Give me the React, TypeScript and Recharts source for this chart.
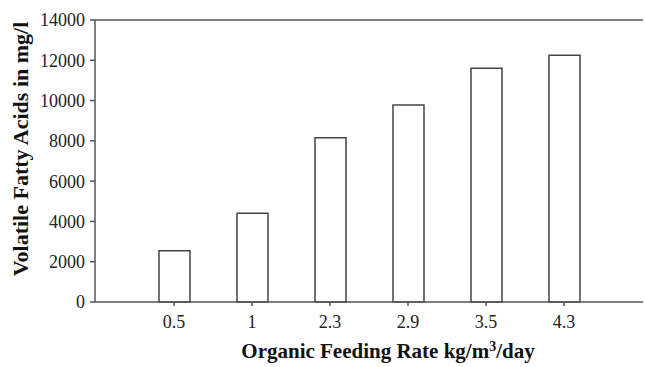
import React from 'react';
import { BarChart, Bar, XAxis, YAxis, ReferenceLine } from 'recharts';

const categories = ['0.5', '1', '2.3', '2.9', '3.5', '4.3'];
const vfaValues = [2550, 4400, 8150, 9780, 11600, 12250];
const yTicks = [0, 2000, 4000, 6000, 8000, 10000, 12000, 14000];

const data = categories.map((c, i) => ({ rate: c, vfa: vfaValues[i] }));

const FONT = '"Liberation Serif", "Times New Roman", serif';
const AXIS = '#555';

const XTitle = () => (
  <text x={388} y={358} textAnchor="middle" fontFamily={FONT} fontWeight="bold" fontSize={21} fill="#111">
    Organic Feeding Rate kg/m<tspan dy={-7} fontSize={14}>3</tspan><tspan dy={7}>/day</tspan>
  </text>
);

const YTitle = () => (
  <text
    x={0}
    y={0}
    transform="translate(28,149) rotate(-90)"
    textAnchor="middle"
    fontFamily={FONT}
    fontWeight="bold"
    fontSize={22}
    fill="#111"
  >
    Volatile Fatty Acids in mg/l
  </text>
);

export default function App() {
  return (
    <div style={{ position: 'absolute', left: 0, top: 0, background: '#fff' }}>
      <BarChart
        width={645}
        height={367}
        data={data}
        margin={{ top: 20, right: 2, bottom: 0, left: 0 }}
      >
        <XAxis
          dataKey="rate"
          height={65}
          padding={{ left: 40, right: 40 }}
          stroke={AXIS}
          strokeWidth={1.5}
          tickSize={4}
          tickMargin={9}
          tick={{ fontFamily: FONT, fontSize: 18, fill: '#222' }}
          tickLine={{ stroke: AXIS }}
          interval={0}
          label={<XTitle />}
        />
        <YAxis
          width={95}
          domain={[0, 14000]}
          ticks={yTicks}
          interval={0}
          stroke={AXIS}
          strokeWidth={1.5}
          tickSize={5}
          tickMargin={5}
          tick={{ fontFamily: FONT, fontSize: 18, fill: '#222' }}
          label={<YTitle />}
        />
        <ReferenceLine y={14000} stroke={AXIS} strokeWidth={1.5} />
        <Bar dataKey="vfa" fill="#fff" stroke="#444" strokeWidth={1.5} barSize={31} isAnimationActive={false} />
      </BarChart>
    </div>
  );
}
